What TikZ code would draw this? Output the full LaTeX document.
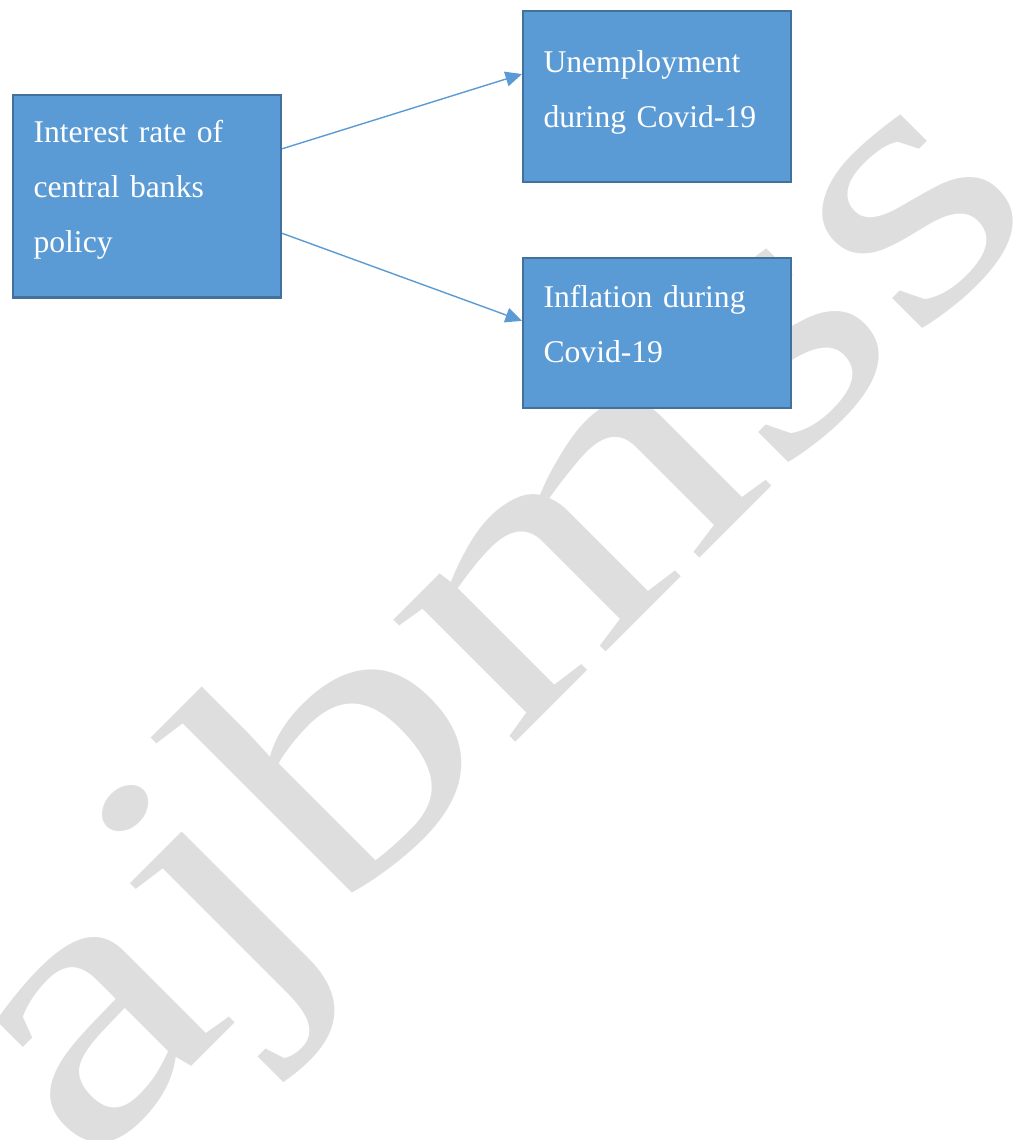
\documentclass[tikz,border=0pt]{standalone}
\usepackage{fontspec}
\setmainfont{Liberation Serif}
\usetikzlibrary{positioning,arrows.meta}

\definecolor{boxfill}{HTML}{5B9BD5}
\definecolor{boxline}{HTML}{41719C}
\definecolor{wmgray}{HTML}{DEDEDE}

\tikzset{
  varbox/.style={draw=boxline, line width=1.2pt, fill=boxfill, text=white,
    anchor=north west, text width=4.54cm, align=left,
    inner xsep=0.41cm, inner ysep=0pt,
    font=\fontsize{18pt}{31.3pt}\selectfont},
  link/.style={draw=boxfill, line width=0.8pt,
    -{Triangle[length=0.33cm,width=0.3cm]}}
}

\begin{document}
\begin{tikzpicture}[x=0.02cm, y=-0.02cm]
	\useasboundingbox (0,0) rectangle (1014,1140);
	
	% watermark behind everything
	\node (wmark) [anchor=base west, rotate=45, inner sep=0pt, text=wmgray,
	  font=\fontsize{214pt}{214pt}\selectfont] at (86,1172) {\scalebox{1.3}[1]{ajbmss}};
	
	% boxes
	\node (rate) [varbox, text height=0.95cm, text depth=3.1cm] at (12,94) {Interest rate of\\ central banks\\ policy};
	\node (unemp) [varbox, text height=1.23cm, text depth=2.19cm] at (522,10) {Unemployment\\ during Covid-19};
	\node (infl) [varbox, text height=1.0cm, text depth=2.0cm, below=1.475cm of unemp.south west, anchor=north west] {Inflation during\\ Covid-19};
	
	% links
	\draw[link] ([yshift=0.95cm]rate.east) -- ([yshift=0.45cm]unemp.west);
	\draw[link] ([yshift=-0.74cm]rate.east) -- ([yshift=0.24cm]infl.west);
\end{tikzpicture}
\end{document}
